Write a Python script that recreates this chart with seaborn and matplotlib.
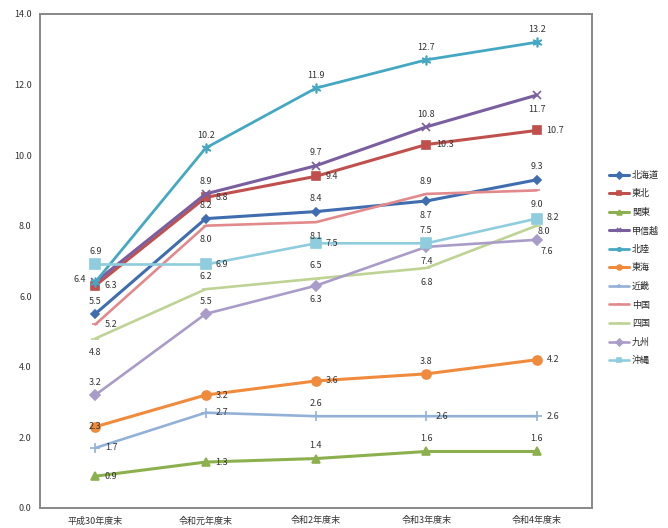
import pandas as pd
import matplotlib.pyplot as plt
import seaborn as sns

# ──────────────────────────────────────────────
# Data
# ──────────────────────────────────────────────
periods = ["平成30年度末", "令和元年度末", "令和2年度末", "令和3年度末", "令和4年度末"]

regions = ["北海道", "東北", "関東", "甲信越", "北陸", "東海", "近畿", "中国", "四国", "九州", "沖縄"]

hokkaido = [5.5, 8.2, 8.4, 8.7, 9.3]
tohoku = [6.3, 8.8, 9.4, 10.3, 10.7]
kanto = [0.9, 1.3, 1.4, 1.6, 1.6]
koshinetsu = [6.4, 8.9, 9.7, 10.8, 11.7]
hokuriku = [6.4, 10.2, 11.9, 12.7, 13.2]
tokai = [2.3, 3.2, 3.6, 3.8, 4.2]
kinki = [1.7, 2.7, 2.6, 2.6, 2.6]
chugoku = [5.2, 8.0, 8.1, 8.9, 9.0]
shikoku = [4.8, 6.2, 6.5, 6.8, 8.0]
kyushu = [3.2, 5.5, 6.3, 7.4, 7.6]
okinawa = [6.9, 6.9, 7.5, 7.5, 8.2]

values = [hokkaido, tohoku, kanto, koshinetsu, hokuriku, tokai,
          kinki, chugoku, shikoku, kyushu, okinawa]

# ──────────────────────────────────────────────
# Styles
# ──────────────────────────────────────────────
colors = ["#3F6DAF", "#C0504D", "#8DB04E", "#7A5FA0", "#45A8C2", "#F08A3C",
          "#93B1D6", "#E2898C", "#BFD395", "#AA9CC8", "#8FCCDD"]
markers = ["D", "s", "^", "x", (6, 2, 0), "o", "+", "_", "_", "D", "s"]
msizes = [4.5, 6, 6, 6, 7, 6.5, 7, 5, 6, 5, 7]
lwidths = [2.2, 2.2, 2.2, 2.2, 2.0, 2.2, 1.9, 1.9, 1.9, 1.9, 1.9]

# where each data label sits: a=above, b=below, r=right, l=left, c=centre, ''=hidden
label_pos = {
    "北海道": ["a", "a", "a", "b", "a"],
    "東北": ["r", "r", "r", "r", "r"],
    "関東": ["r", "r", "a", "a", "a"],
    "甲信越": ["", "a", "a", "a", "b"],
    "北陸": ["l", "a", "a", "a", "a"],
    "東海": ["c", "r", "r", "a", "r"],
    "近畿": ["r", "r", "a", "r", "r"],
    "中国": ["r", "b", "b", "a", "b"],
    "四国": ["b", "a", "a", "b", "rb"],
    "九州": ["a", "a", "b", "b", "br"],
    "沖縄": ["a", "r", "r", "a", "ra"],
}
offsets = {"a": (0, 6, "center", "bottom"), "b": (0, -7, "center", "top"),
           "r": (7, 0, "left", "center"), "l": (-7, 2, "right", "center"),
           "c": (0, 0, "center", "center"), "rb": (1, -1, "left", "top"),
           "br": (3, -5, "left", "top"), "ra": (7, 1, "left", "center")}

rows = []
for name, vals in zip(regions, values):
    for i, v in enumerate(vals):
        rows.append({"region": name, "x": i, "value": v})
df = pd.DataFrame(rows)

sns.set_style("white")
plt.rcParams["font.family"] = ["Noto Sans CJK JP", "DejaVu Sans"]

fig = plt.figure(figsize=(6.68, 5.28), dpi=100)
ax = fig.add_axes([0.06, 0.038, 0.826, 0.9355])

for k, name in enumerate(regions):
    sub = df[df["region"] == name]
    sns.lineplot(data=sub, x="x", y="value", ax=ax, color=colors[k],
                 marker=markers[k], markersize=msizes[k], linewidth=lwidths[k],
                 markeredgecolor=colors[k], markeredgewidth=1.2, label=name)
    for i, v in enumerate(values[k]):
        pos = label_pos[name][i]
        if not pos:
            continue
        dx, dy, ha, va = offsets[pos]
        ax.annotate(f"{v:.1f}", (i, v), xytext=(dx, dy), textcoords="offset points",
                    ha=ha, va=va, fontsize=6.5, color="#333333")

ax.set_xlim(-0.5, 4.5)
ax.set_ylim(0, 14)
ax.set_yticks([0, 2, 4, 6, 8, 10, 12, 14])
ax.set_yticklabels([f"{t:.1f}" for t in range(0, 15, 2)], fontsize=6.5, color="#333333")
ax.set_xticks(range(len(periods)))
ax.set_xticklabels(periods, fontsize=6.5, color="#333333")
ax.set_xticks([-0.5, 0.5, 1.5, 2.5, 3.5, 4.5], minor=True)
ax.tick_params(axis="x", which="major", length=0, pad=6)
ax.tick_params(axis="x", which="minor", length=4, color="#777777", direction="out")
ax.tick_params(axis="y", length=3, color="#777777", direction="out", pad=3)
ax.set_xlabel("")
ax.set_ylabel("")
for s in ax.spines.values():
    s.set_color("#888888")
    s.set_linewidth(1.4)

leg = ax.legend(loc="upper left", bbox_to_anchor=(1.025, 0.69), frameon=False,
                fontsize=6.5, handlelength=2.2, labelspacing=1.05,
                handletextpad=0.3, borderaxespad=0)
for line in leg.get_lines():
    line.set_markersize(3.5)

fig.savefig("out.png", dpi=100)
